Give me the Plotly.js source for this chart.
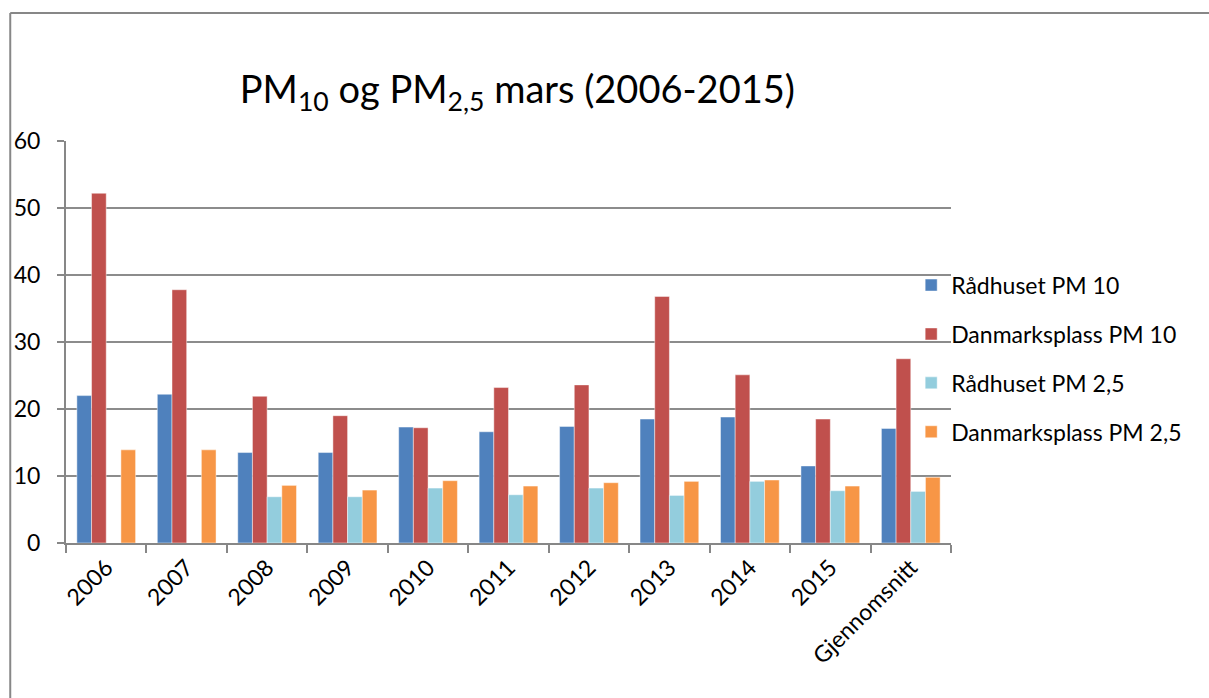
<!DOCTYPE html>
<html>
<head>
<meta charset="utf-8">
<script src="https://cdn.plot.ly/plotly-3.0.1.min.js"></script>
<style>html,body{margin:0;padding:0;background:#fff;}#chart{width:1209px;height:698px;}</style>
</head>
<body>
<div id="chart"></div>
<script>
const categories = ["2006","2007","2008","2009","2010","2011","2012","2013","2014","2015","Gjennomsnitt"];
const seriesNames = ["Rådhuset PM 10","Danmarksplass PM 10","Rådhuset PM 2,5","Danmarksplass PM 2,5"];
const radhusetPM10 = [22.0, 22.2, 13.5, 13.5, 17.3, 16.6, 17.4, 18.5, 18.8, 11.5, 17.1];
const danmarksplassPM10 = [52.2, 37.8, 21.9, 19.0, 17.2, 23.2, 23.6, 36.8, 25.1, 18.5, 27.5];
const radhusetPM25 = [null, null, 6.9, 6.9, 8.2, 7.2, 8.2, 7.1, 9.2, 7.8, 7.7];
const danmarksplassPM25 = [13.9, 13.9, 8.6, 7.9, 9.3, 8.5, 9.0, 9.2, 9.4, 8.5, 9.8];
const yTicks = [0, 10, 20, 30, 40, 50, 60];
const colors = ["#4F81BD", "#C0504D", "#93CDDD", "#F79646"];

const values = [radhusetPM10, danmarksplassPM10, radhusetPM25, danmarksplassPM25];
const FONT = "Lato, 'Open Sans', sans-serif";
const traces = values.map((v, i) => ({
  type: "bar",
  name: seriesNames[i],
  x: categories,
  y: v,
  legendgroup: "g" + i,
  marker: {color: colors[i], line: {color: "rgba(255,255,255,0.45)", width: 1}},
  hoverinfo: "x+y+name"
}));

const layout = {
  width: 1209, height: 698,
  paper_bgcolor: "#ffffff", plot_bgcolor: "#ffffff",
  margin: {l: 66, r: 258, t: 141, b: 155},
  font: {family: FONT, color: "#000000", size: 23},
  title: {
    text: "PM<sub>10</sub> og PM<sub>2,5</sub> mars (2006-2015)",
    font: {family: FONT, size: 38, color: "#000000"},
    xref: "paper", x: 0.51, xanchor: "center",
    yref: "container", y: 0.872, yanchor: "middle"
  },
  barmode: "group",
  bargap: 0.27,
  bargroupgap: 0,
  showlegend: true,
  legend: {
    x: 0.955, xanchor: "left", y: 0.695, yanchor: "top",
    font: {family: FONT, size: 23, color: "#000000"},
    tracegroupgap: 16, itemwidth: 30,
    bgcolor: "rgba(0,0,0,0)"
  },
  xaxis: {
    type: "category",
    tickangle: -45,
    ticks: "outside", ticklen: 8, tickcolor: "#878787", tickwidth: 2,
    tickson: "boundaries",
    showline: true, linecolor: "#878787", linewidth: 2,
    showgrid: false,
    tickfont: {family: FONT, size: 23, color: "#000000"},
    fixedrange: true
  },
  yaxis: {
    range: [0, 60],
    tickvals: yTicks,
    ticks: "outside", ticklen: 7, tickcolor: "#878787", tickwidth: 2,
    showline: true, linecolor: "#878787", linewidth: 2,
    showgrid: true, gridcolor: "#8c8c8c", gridwidth: 2,
    zeroline: false,
    ticklabelstandoff: 12,
    tickfont: {family: FONT, size: 23, color: "#000000"},
    fixedrange: true
  },
  shapes: [
    {type: "line", xref: "paper", yref: "paper", x0: -0.063, x1: -0.063, y0: -1.0, y1: 1.3185, line: {color: "#878787", width: 2}},
    {type: "line", xref: "paper", yref: "paper", x0: -0.063, x1: 1.3, y0: 1.3185, y1: 1.3185, line: {color: "#878787", width: 2}}
  ]
};

Plotly.newPlot("chart", traces, layout, {displayModeBar: false, staticPlot: false});
</script>
</body>
</html>
